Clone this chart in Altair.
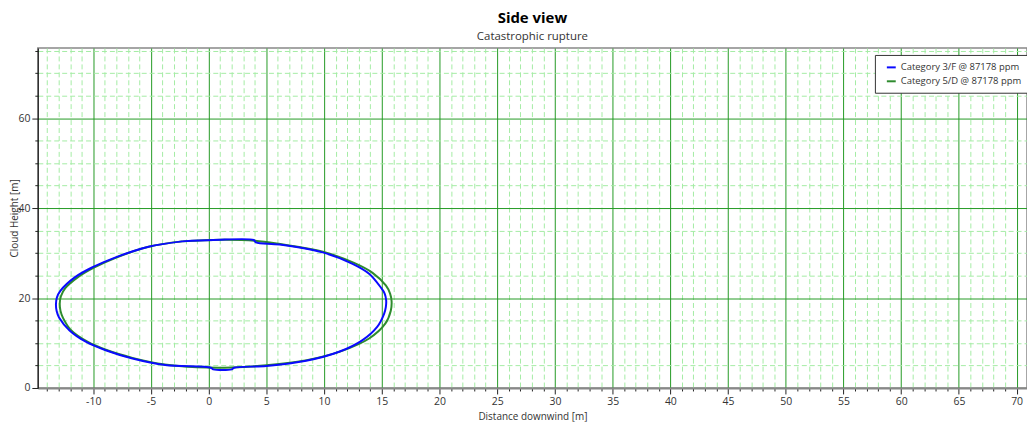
import altair as alt
import pandas as pd

series_names = ["Category 3/F @ 87178 ppm", "Category 5/D @ 87178 ppm"]
series_colors = ["#0a0aff", "#2e8b2e"]

# Contour of Category 3/F cloud, in drawing order
blue_x = [-2.3, 0.4, 3.9, 4.1, 6.15, 9.88, 12.47, 13.9, 14.9, 15.25,
          15.38, 15.35, 15.2, 14.6, 13.3, 11.3, 8.45, 5.0, 2.2, 2.0,
          0.4, 0.2, -3.76, -6.6, -8.92, -10.65, -12.05, -12.95, -13.17, -13.23,
          -13.15, -12.85, -11.6, -10.1, -8.06, -5.2, -2.3]
blue_y = [32.6, 32.9, 32.9, 32.4, 31.9, 30.15, 27.6, 25.4, 22.4, 21.0,
          19.5, 18.0, 16.5, 13.6, 10.6, 8.05, 6.05, 4.9, 4.5, 4.15,
          4.15, 4.5, 5.1, 6.57, 8.4, 10.3, 12.8, 15.6, 17.1, 18.6,
          20.1, 21.6, 24.6, 26.8, 29.05, 31.4, 32.6]

# Contour of Category 5/D cloud, in drawing order
green_x = [-2.3, 1.0, 4.0, 6.2, 9.9, 12.6, 14.2, 15.35, 15.72, 15.85,
           15.78, 15.3, 13.9, 11.5, 8.5, 5.0, 2.0, -1.0, -3.8, -6.6,
           -8.9, -10.5, -11.9, -12.62, -12.84, -12.9, -12.8, -12.42, -11.35, -9.9,
           -8.0, -5.2, -2.3]
green_y = [32.6, 32.95, 32.75, 32.0, 30.3, 27.8, 25.6, 22.8, 21.0, 19.3,
           17.2, 14.3, 11.0, 8.2, 6.2, 5.05, 4.55, 4.6, 5.2, 6.7,
           8.5, 10.3, 12.8, 15.6, 17.2, 18.8, 20.4, 22.2, 24.6, 26.8,
           29.0, 31.4, 32.6]

x_ticks = list(range(-14, 71))
y_ticks = list(range(0, 76, 5))
x_domain = [-14.8, 70.9]
y_domain = [0, 75.6]

FONT = "Open Sans"
MAJOR = "#249a24"
MINOR = "#a4eca4"


def frame(xs, ys, name):
    return pd.DataFrame({"x": xs, "y": ys, "series": name, "order": list(range(len(xs)))})


df_blue = frame(blue_x, blue_y, series_names[0])
df_green = frame(green_x, green_y, series_names[1])

x_axis = alt.Axis(
    values=x_ticks,
    labelExpr="datum.value % 5 === 0 ? '' + datum.value : ''",
    labelOverlap=False,
    labelFlush=False,
    grid=True,
    gridColor={"condition": {"test": "datum.value % 5 === 0", "value": MAJOR}, "value": MINOR},
    gridDash={"condition": {"test": "datum.value % 5 === 0", "value": []}, "value": [5, 3]},
    gridWidth=1,
    tickSize={"condition": {"test": "datum.value % 5 === 0", "value": 6}, "value": 3},
    tickColor="#222",
    domainColor="#888",
    domainWidth=2,
    labelFont=FONT,
    labelFontSize=10.5,
    labelColor="#333",
    labelPadding=3,
    title="Distance downwind [m]",
    titleFont=FONT,
    titleFontSize=10,
    titleFontWeight="normal",
    titleColor="#333",
    titleY=29,
    titleBaseline="middle",
)

y_axis = alt.Axis(
    values=y_ticks,
    labelExpr="datum.value % 20 === 0 ? '' + datum.value : ''",
    labelOverlap=False,
    labelFlush=False,
    grid=True,
    gridColor={"condition": {"test": "datum.value % 20 === 0", "value": MAJOR}, "value": MINOR},
    gridDash={"condition": {"test": "datum.value % 20 === 0", "value": []}, "value": [5, 3]},
    gridWidth=1,
    tickSize={"condition": {"test": "datum.value % 20 === 0", "value": 6}, "value": 3},
    tickColor="#222",
    domainColor="#111",
    domainWidth=1,
    labelFont=FONT,
    labelFontSize=10.5,
    labelColor="#333",
    labelPadding=2,
    title="Cloud Height [m]",
    titleFont=FONT,
    titleFontSize=10,
    titleFontWeight="normal",
    titleColor="#333",
    titleX=-23,
    titleY=171,
    titleAngle=-90,
    titleAlign="center",
    titleBaseline="middle",
)

color = alt.Color(
    "series:N",
    scale=alt.Scale(domain=series_names, range=series_colors),
    legend=alt.Legend(
        title=None,
        orient="none",
        legendX=842,
        legendY=7,
        symbolType="stroke",
        symbolSize=80,
        symbolStrokeWidth=2,
        symbolOffset=4,
        labelFont=FONT,
        labelFontSize=9.5,
        labelColor="#333",
        labelLimit=400,
        rowPadding=4,
        padding=7,
        strokeColor="#333",
        fillColor="#ffffff",
        cornerRadius=0,
    ),
)


def line(df):
    return alt.Chart(df).mark_line(strokeWidth=2, interpolate="catmull-rom").encode(
        x=alt.X("x:Q", scale=alt.Scale(domain=x_domain, nice=False, zero=False), axis=x_axis),
        y=alt.Y("y:Q", scale=alt.Scale(domain=y_domain, nice=False, zero=False), axis=y_axis),
        order="order:Q",
        color=color,
    )


chart = alt.layer(line(df_green), line(df_blue)).properties(
    width=995,
    height=342,
    title=alt.TitleParams(
        text="Side view",
        subtitle="Catastrophic rupture",
        font=FONT,
        fontSize=15,
        fontWeight="bold",
        color="#000",
        subtitleFont=FONT,
        subtitleFontSize=11.5,
        subtitleColor="#333",
        subtitlePadding=5,
        anchor="middle",
        offset=3,
    ),
    autosize=alt.AutoSizeParams(type="none"),
    padding={"left": 30, "top": 39, "right": 0, "bottom": 36},
    background="#ffffff",
).configure_view(stroke="#888", strokeWidth=1.5)

chart.save("out.html", embed_options={"renderer": "svg", "actions": False})
